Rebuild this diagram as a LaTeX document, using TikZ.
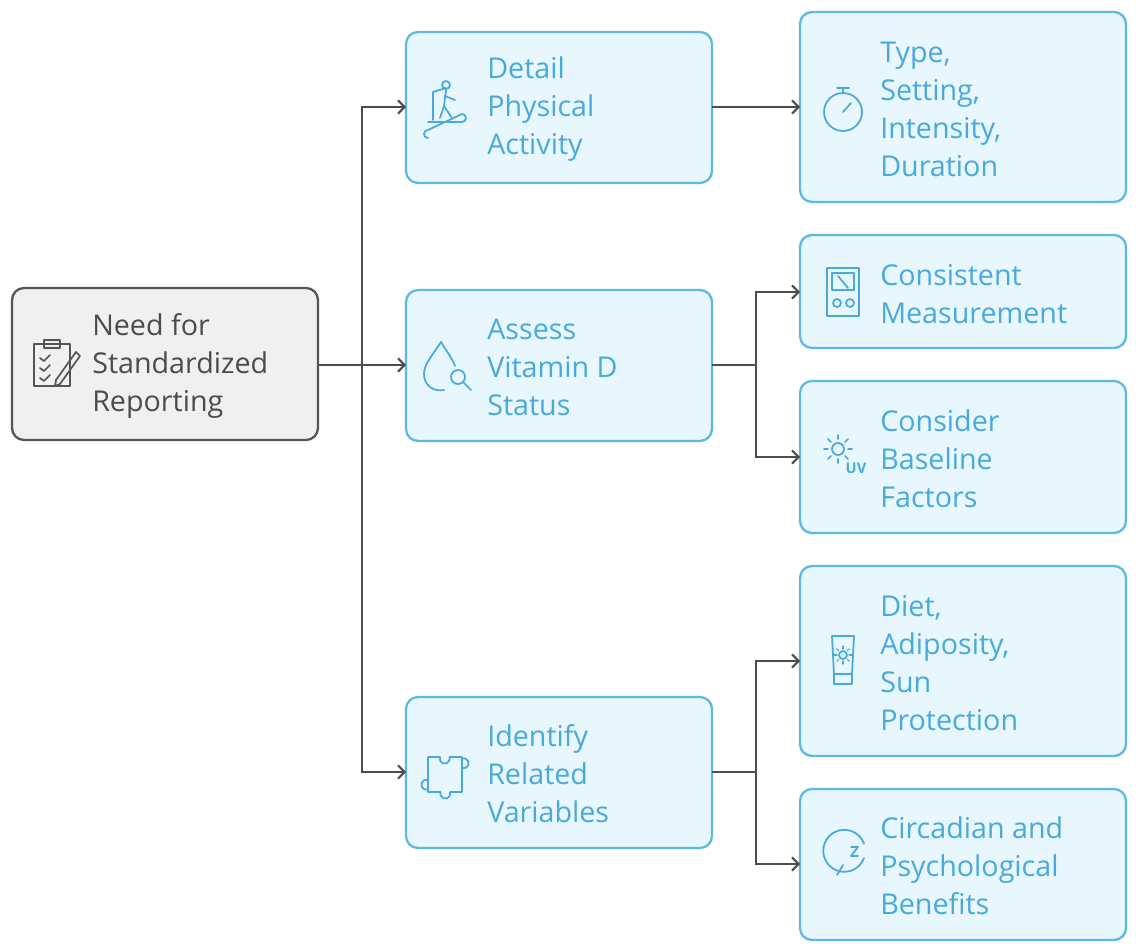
\documentclass[tikz,border=0pt]{standalone}
\usepackage{fontspec}
\setmainfont{Open Sans}
\usetikzlibrary{positioning}
\usetikzlibrary{calc}
\usetikzlibrary{arrows.meta}
\definecolor{boxfill}{HTML}{E8F6FD}
\definecolor{boxline}{HTML}{5CB8E4}
\definecolor{boxtext}{HTML}{48A9DD}
\definecolor{rootfill}{HTML}{F0F0F0}
\definecolor{rootline}{HTML}{555555}
\definecolor{wire}{HTML}{4D4D4D}
\tikzset{
  box/.style={draw=boxline, fill=boxfill, line width=1.7pt, rounded corners=9pt},
  rootbox/.style={draw=rootline, fill=rootfill, line width=1.7pt, rounded corners=9pt},
  label/.style={anchor=west, align=left, inner sep=0pt, text=boxtext,
    font=\fontsize{21.5}{28.5}\selectfont},
  rootlabel/.style={label, text=rootline!90!black},
  icon/.style={draw=boxtext, line width=1.3pt, line cap=round, line join=round},
  rooticon/.style={icon, draw=rootline},
  wire/.style={draw=wire, line width=1.5pt},
  arr/.style={wire, -{Straight Barb[length=5pt,width=10pt]}}
}
\begin{document}
\begin{tikzpicture}[x=0.75pt, y=-0.75pt]
  \useasboundingbox (0,0) rectangle (1136,952);
  % boxes
  \draw[rootbox] (12,288) rectangle (318,440);
  \draw[box] (406,32) rectangle (712,183);
  \draw[box] (406,290) rectangle (712,441);
  \draw[box] (406,697) rectangle (712,848);
  \draw[box] (800,12) rectangle (1126,202);
  \draw[box] (800,235) rectangle (1126,348);
  \draw[box] (800,381) rectangle (1126,533);
  \draw[box] (800,566) rectangle (1126,756);
  \draw[box] (800,789) rectangle (1126,940);
  % anchor coordinates of the boxes
  \coordinate (root) at (318,365);
  \coordinate (detail) at (406,107);   \coordinate (detailR) at (712,107);
  \coordinate (assess) at (406,365);   \coordinate (assessR) at (712,365);
  \coordinate (ident) at (406,772);    \coordinate (identR) at (712,772);
  \coordinate (type) at (800,107);
  \coordinate (consistent) at (800,292);
  \coordinate (consider) at (800,457);
  \coordinate (diet) at (800,661);
  \coordinate (circ) at (800,864);
  \coordinate (splitA) at (362,365);
  \coordinate (splitB) at (756,365);
  \coordinate (splitC) at (756,772);
  % texts
  \node[rootlabel] (rootT) at (92,366) {Need for\\Standardized\\Reporting};
  \node[label] (detailT) at (487,109) {Detail\\Physical\\Activity};
  \node[label] (assessT) at (487,367) {Assess\\Vitamin D\\Status};
  \node[label] (identT) at (487,774) {Identify\\Related\\Variables};
  \node[label] (typeT) at (880,109) {Type,\\Setting,\\Intensity,\\Duration};
  \node[label] (consistentT) at (880,294) {Consistent\\Measurement};
  \node[label] (considerT) at (880,459) {Consider\\Baseline\\Factors};
  \node[label] (dietT) at (880,663) {Diet,\\Adiposity,\\Sun\\Protection};
  \node[label] (circT) at (880,866) {Circadian and\\Psychological\\Benefits};
  % connectors
  \draw[wire] (root) -- (splitA);
  \draw[arr] (splitA) |- (detail);
  \draw[arr] (splitA) -- (assess);
  \draw[arr] (splitA) |- (ident);
  \draw[arr] (detailR) -- (type);
  \draw[wire] (assessR) -- (splitB);
  \draw[arr] (splitB) |- (consistent);
  \draw[arr] (splitB) |- (consider);
  \draw[wire] (identR) -- (splitC);
  \draw[arr] (splitC) |- (diet);
  \draw[arr] (splitC) |- (circ);
  % icons
  % clipboard
  \draw[rooticon] (34,344) rectangle (70,386);
  \draw[rooticon] (44,340) rectangle (60,348);
  \foreach \yy in {358,368,378}{\draw[rooticon] (40,\yy) -- (44,\yy+3) -- (50,\yy-3);}
  \draw[rooticon] (56,380) -- (76,352) -- (80,356) -- (60,384) -- (55,386) -- cycle;
  % treadmill
  \draw[icon] (428,122) -- (462,122) arc (90:-90:4) -- (428,130) arc (270:90:4);
  \draw[icon] (433,120) -- (433,92) -- (446,88);
  \draw[icon] (446,85) circle (4);
  \draw[icon] (446,90) -- (444,106) -- (452,118);
  \draw[icon] (444,106) -- (440,118);
  \draw[icon] (445,96) -- (455,100);
  % drop with lens
  \draw[icon] (441,342) .. controls (432,356) and (424,364) .. (424,374)
     .. controls (424,386) and (434,392) .. (444,390);
  \draw[icon] (441,342) .. controls (447,352) and (452,358) .. (455,366);
  \draw[icon] (458,377) circle (7);
  \draw[icon] (463,382) -- (471,390);
  % puzzle
  \draw[icon] (428,757) -- (440,757) arc (200:-20:5) -- (462,757) -- (462,768)
     arc (110:-110:5) -- (462,792) -- (450,792) arc (-20:200:5) -- (428,792)
     -- (428,780) arc (-70:-290:5) -- cycle;
  % stopwatch
  \draw[icon] (843,112) circle (19);
  \draw[icon] (837,88) -- (849,88) (843,88) -- (843,93);
  \draw[icon] (843,112) -- (851,103);
  % device
  \draw[icon] (827,268) rectangle (859,316);
  \draw[icon] (832,273) rectangle (854,290);
  \draw[icon] (838,276) -- (848,288);
  \draw[icon] (837,303) circle (4) (850,303) circle (4);
  % sun UV
  \draw[icon] (838,449) circle (6);
  \foreach \a in {0,45,...,315}{\draw[icon] ($(838,449)+(\a:10)$) -- ($(838,449)+(\a:14)$);}
  \node[text=boxtext, font=\fontsize{11}{11}\selectfont\bfseries] (uvT) at (856,468) {UV};
  % sunscreen tube
  \draw[icon] (832,636) -- (854,636) -- (852,674) -- (834,674) -- cycle;
  \draw[icon] (834,674) rectangle (852,684);
  \draw[icon] (843,655) circle (4);
  \foreach \a in {0,45,...,315}{\draw[icon, line width=0.8pt] ($(843,655)+(\a:6)$) -- ($(843,655)+(\a:9)$);}
  % clock with z
  \draw[icon] (864,858) arc (20:340:21);
  \draw[icon] (843,865) -- (837,875);
  \draw[icon] (851,847) -- (858,847) -- (851,856) -- (858,856);
\end{tikzpicture}
\end{document}
